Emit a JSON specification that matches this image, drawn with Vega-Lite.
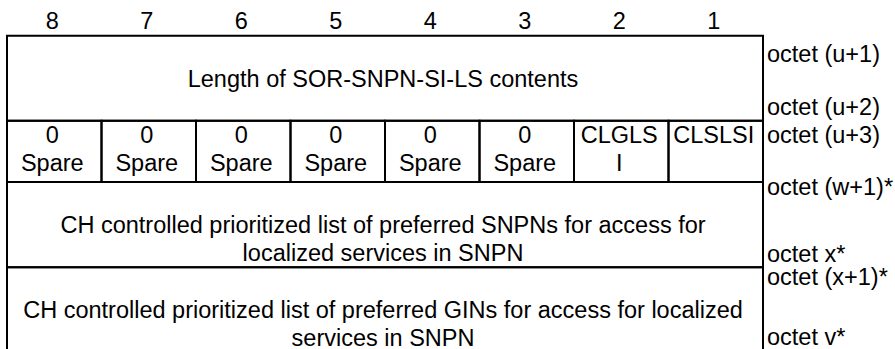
{
  "$schema": "https://vega.github.io/schema/vega-lite/v6.json",
  "width": 895,
  "height": 349,
  "autosize": {"type": "none"},
  "padding": 0,
  "background": "white",
  "config": {
    "view": {"stroke": null},
    "text": {"font": "Liberation Sans", "fontSize": 23.5, "color": "black"}
  },
  "datasets": {
    "cells": [
      {"x0": 0, "x1": 8, "y0": 0, "y1": 1, "xc": 4, "yb": 0.6, "text": "Length of SOR-SNPN-SI-LS contents"},
      {"x0": 0, "x1": 1, "y0": 1, "y1": 2, "xc": 0.5, "yb": 1.359, "text": "0\nSpare"},
      {"x0": 1, "x1": 2, "y0": 1, "y1": 2, "xc": 1.5, "yb": 1.359, "text": "0\nSpare"},
      {"x0": 2, "x1": 3, "y0": 1, "y1": 2, "xc": 2.5, "yb": 1.359, "text": "0\nSpare"},
      {"x0": 3, "x1": 4, "y0": 1, "y1": 2, "xc": 3.5, "yb": 1.359, "text": "0\nSpare"},
      {"x0": 4, "x1": 5, "y0": 1, "y1": 2, "xc": 4.5, "yb": 1.359, "text": "0\nSpare"},
      {"x0": 5, "x1": 6, "y0": 1, "y1": 2, "xc": 5.5, "yb": 1.359, "text": "0\nSpare"},
      {"x0": 6, "x1": 7, "y0": 1, "y1": 2, "xc": 6.5, "yb": 1.359, "text": "CLGLS\nI"},
      {"x0": 7, "x1": 8, "y0": 1, "y1": 2, "xc": 7.5, "yb": 1.359, "text": "CLSLSI"},
      {"x0": 0, "x1": 8, "y0": 2, "y1": 3, "xc": 4, "yb": 2.598, "text": "CH controlled prioritized list of preferred SNPNs for access for\nlocalized services in SNPN"},
      {"x0": 0, "x1": 8, "y0": 3, "y1": 4, "xc": 4, "yb": 3.599, "text": "CH controlled prioritized list of preferred GINs for access for localized\nservices in SNPN"}
    ],
    "bits": [
      {"xc": 0.5, "yb": -0.188, "text": "8"},
      {"xc": 1.5, "yb": -0.188, "text": "7"},
      {"xc": 2.5, "yb": -0.188, "text": "6"},
      {"xc": 3.5, "yb": -0.188, "text": "5"},
      {"xc": 4.5, "yb": -0.188, "text": "4"},
      {"xc": 5.5, "yb": -0.188, "text": "3"},
      {"xc": 6.5, "yb": -0.188, "text": "2"},
      {"xc": 7.5, "yb": -0.188, "text": "1"}
    ],
    "octets": [
      {"xc": 8, "yb": 0.306, "text": "octet (u+1)"},
      {"xc": 8, "yb": 0.935, "text": "octet (u+2)"},
      {"xc": 8, "yb": 1.359, "text": "octet (u+3)"},
      {"xc": 8, "yb": 2.147, "text": "octet (w+1)*"},
      {"xc": 8, "yb": 2.935, "text": "octet x*"},
      {"xc": 8, "yb": 3.21, "text": "octet (x+1)*"},
      {"xc": 8, "yb": 3.917, "text": "octet v*"}
    ]
  },
  "layer": [
    {
      "data": {"name": "cells"},
      "mark": {"type": "rect", "filled": false, "color": "black", "strokeWidth": 2},
      "encoding": {
        "x": {"field": "x0", "type": "quantitative", "axis": null, "scale": {"domain": [0, 8], "range": [7, 763], "nice": false, "zero": false}},
        "x2": {"field": "x1"},
        "y": {"field": "y0", "type": "quantitative", "axis": null, "scale": {"domain": [-1, 0, 1, 2, 3, 4], "range": [0, 35.7, 120.7, 182, 267.3, 352], "nice": false, "zero": false}},
        "y2": {"field": "y1"}
      }
    },
    {
      "data": {"name": "cells"},
      "mark": {"type": "text", "lineBreak": "\n", "lineHeight": 28, "baseline": "alphabetic", "align": "center", "dx": -2},
      "encoding": {
        "x": {"field": "xc", "type": "quantitative", "axis": null, "scale": {"domain": [0, 8], "range": [7, 763], "nice": false, "zero": false}},
        "y": {"field": "yb", "type": "quantitative", "axis": null, "scale": {"domain": [-1, 0, 1, 2, 3, 4], "range": [0, 35.7, 120.7, 182, 267.3, 352], "nice": false, "zero": false}},
        "text": {"field": "text"}
      }
    },
    {
      "data": {"name": "bits"},
      "mark": {"type": "text", "baseline": "alphabetic", "align": "center", "dx": -2},
      "encoding": {
        "x": {"field": "xc", "type": "quantitative", "axis": null, "scale": {"domain": [0, 8], "range": [7, 763], "nice": false, "zero": false}},
        "y": {"field": "yb", "type": "quantitative", "axis": null, "scale": {"domain": [-1, 0, 1, 2, 3, 4], "range": [0, 35.7, 120.7, 182, 267.3, 352], "nice": false, "zero": false}},
        "text": {"field": "text"}
      }
    },
    {
      "data": {"name": "octets"},
      "mark": {"type": "text", "baseline": "alphabetic", "align": "left", "dx": 4},
      "encoding": {
        "x": {"field": "xc", "type": "quantitative", "axis": null, "scale": {"domain": [0, 8], "range": [7, 763], "nice": false, "zero": false}},
        "y": {"field": "yb", "type": "quantitative", "axis": null, "scale": {"domain": [-1, 0, 1, 2, 3, 4], "range": [0, 35.7, 120.7, 182, 267.3, 352], "nice": false, "zero": false}},
        "text": {"field": "text"}
      }
    }
  ]
}
